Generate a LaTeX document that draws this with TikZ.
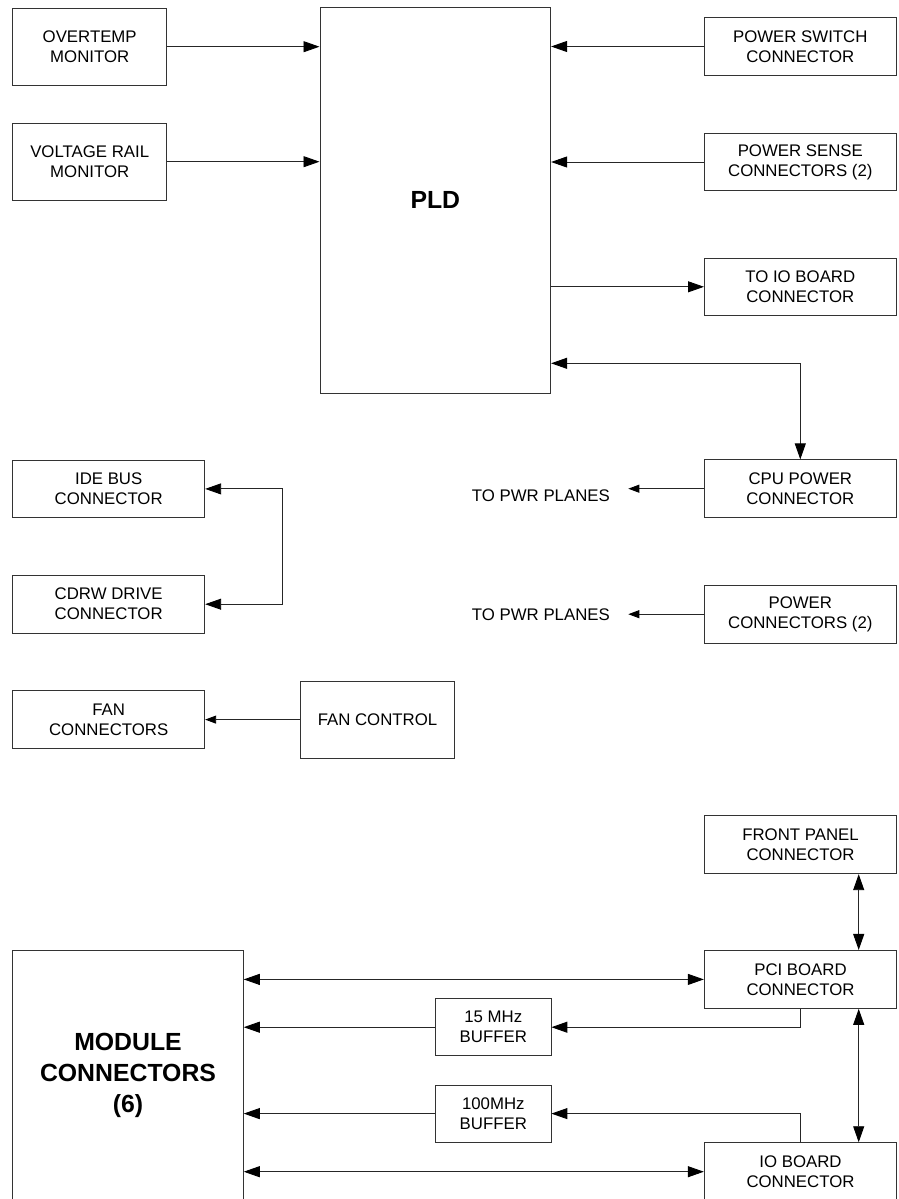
\documentclass[tikz,border=0pt]{standalone}
\usepackage{fontspec}
\setmainfont{Liberation Sans}
\usetikzlibrary{arrows.meta}
\tikzset{
  bigtip/.tip={Triangle[length=16pt,width=11pt,color=black]},
  smalltip/.tip={Triangle[length=11pt,width=8pt,color=black]},
  box/.style={draw=black!80, line width=0.9pt, inner sep=0pt, align=center,
    font=\fontsize{16.8pt}{20pt}\selectfont},
  bigbox/.style={box, font=\fontsize{24.8pt}{31.3pt}\selectfont\bfseries},
  lbl/.style={inner sep=0pt, font=\fontsize{16.8pt}{20pt}\selectfont},
  conn/.style={draw=black!85, line width=0.9pt},
}
\begin{document}
\begin{tikzpicture}[x=1pt,y=-1pt]
\useasboundingbox (0,0) rectangle (898,1199);

% left column top
\node[box, minimum width=154pt, minimum height=76.7pt] (over) at (89.7,46.7) {OVERTEMP\\MONITOR};
\node[box, minimum width=154pt, minimum height=76.7pt] (volt) at (89.7,161.7) {VOLTAGE RAIL\\MONITOR};

% PLD
\node[bigbox, minimum width=230.7pt, minimum height=385.7pt] (pld) at (435.3,200.2) {PLD};

% right column top
\node[box, minimum width=191.7pt, minimum height=57.7pt] (pwsw) at (800.3,46.5) {POWER SWITCH\\CONNECTOR};
\node[box, minimum width=191.7pt, minimum height=57.7pt] (pwsense) at (800.3,162) {POWER SENSE\\CONNECTORS (2)};
\node[box, minimum width=191.7pt, minimum height=57.7pt] (toio) at (800.3,286.8) {TO IO BOARD\\CONNECTOR};
\node[box, minimum width=191.7pt, minimum height=57.7pt] (cpu) at (800.3,488.7) {CPU POWER\\CONNECTOR};
\node[box, minimum width=191.7pt, minimum height=57.7pt] (pwconn) at (800.3,614.2) {POWER\\CONNECTORS (2)};

% to pwr planes labels
\node[lbl, anchor=east, inner xsep=18.3pt] (pwr1) at (628.3,495.8) {TO PWR PLANES};
\node[lbl, anchor=east, inner xsep=18.3pt] (pwr2) at (628.3,615) {TO PWR PLANES};

% left middle
\node[box, minimum width=192pt, minimum height=57.7pt] (ide) at (108.7,488.9) {IDE BUS\\CONNECTOR};
\node[box, minimum width=192pt, minimum height=57.7pt] (cdrw) at (108.7,604.2) {CDRW DRIVE\\CONNECTOR};
\node[box, minimum width=192pt, minimum height=57.7pt] (fanconn) at (108.7,719.6) {FAN\\CONNECTORS};
\node[box, minimum width=153.6pt, minimum height=77.3pt] (fanctl) at (377.5,719.6) {FAN CONTROL};

% bottom
\node[box, minimum width=192.4pt, minimum height=58pt] (front) at (800.5,844.7) {FRONT PANEL\\CONNECTOR};
\node[box, minimum width=192.4pt, minimum height=58pt] (pci) at (800.5,979.4) {PCI BOARD\\CONNECTOR};
\node[box, minimum width=192.4pt, minimum height=58pt] (io) at (800.5,1171.7) {IO BOARD\\CONNECTOR};
\node[bigbox, minimum width=230.6pt, minimum height=249.6pt] (module) at (128,1075.5) {MODULE\\CONNECTORS\\(6)};
\node[box, minimum width=115.3pt, minimum height=57pt] (buf15) at (493.3,1027.2) {15 MHz\\BUFFER};
\node[box, minimum width=115.3pt, minimum height=57pt] (buf100) at (493.3,1113.6) {100MHz\\BUFFER};

\coordinate (pldcpu) at (550.7,363.3);
\coordinate (vx) at (858.7,0);

% connectors top
\draw[conn, -bigtip] (over.east) -- (over.east -| pld.west);
\draw[conn, -bigtip] (volt.east) -- (volt.east -| pld.west);
\draw[conn, -bigtip] (pwsw.west) -- (pwsw.west -| pld.east);
\draw[conn, -bigtip] (pwsense.west) -- (pwsense.west -| pld.east);
\draw[conn, -bigtip] (toio.west -| pld.east) -- (toio.west);
\draw[conn, bigtip-bigtip] (pld.east |- pldcpu) -| (cpu.north);
\draw[conn, -smalltip] (cpu.west) -- (cpu.west -| pwr1.east);
\draw[conn, -smalltip] (pwconn.west) -- (pwconn.west -| pwr2.east);

% left middle connectors
\draw[conn, bigtip-bigtip] (ide.east) -- ++(77,0) |- (cdrw.east);
\draw[conn, -smalltip] (fanctl.west) -- (fanctl.west -| fanconn.east);

% bottom connectors
\draw[conn, bigtip-bigtip] (front.south -| vx) -- (pci.north -| vx);
\draw[conn, bigtip-bigtip] (pci.south -| vx) -- (io.north -| vx);
\draw[conn, bigtip-bigtip] (module.east |- pci.west) -- (pci.west);
\draw[conn, -bigtip] (pci.south) |- (buf15.east);
\draw[conn, -bigtip] (buf15.west) -- (buf15.west -| module.east);
\draw[conn, -bigtip] (io.north) |- (buf100.east);
\draw[conn, -bigtip] (buf100.west) -- (buf100.west -| module.east);
\draw[conn, bigtip-bigtip] (module.east |- io.west) -- (io.west);
\end{tikzpicture}
\end{document}
